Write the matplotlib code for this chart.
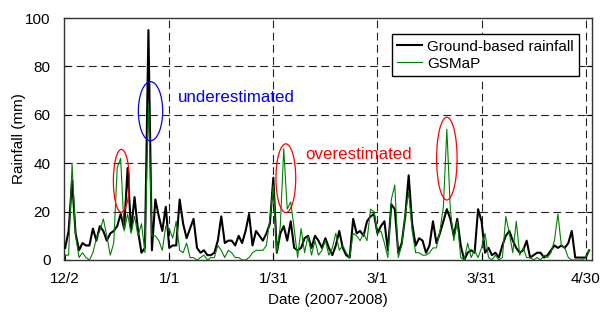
import numpy as np
import matplotlib
matplotlib.use('Agg')
import matplotlib.pyplot as plt
from matplotlib.patches import Ellipse

plt.rcParams['font.family'] = ['Liberation Sans', 'DejaVu Sans']

# daily rainfall (mm), day 0 = 12/2/2007
ground = [5, 12, 33, 11, 4, 7, 6, 6, 13, 8, 14, 12, 8, 11, 12, 14, 19, 13, 38, 12,
          26, 12, 3, 5, 95, 4, 25, 18, 12, 22, 5, 6, 6, 25, 15, 9, 13, 17, 5, 3,
          4, 2, 2, 3, 8, 18, 7, 8, 8, 6, 10, 7, 12, 19, 6, 12, 10, 8, 11, 15,
          34, 3, 11, 14, 8, 16, 5, 4, 5, 9, 10, 5, 10, 8, 5, 9, 5, 2, 6, 12,
          5, 2, 1, 17, 11, 12, 10, 16, 18, 19, 11, 14, 16, 4, 23, 21, 3, 7, 18, 35,
          15, 6, 9, 8, 3, 6, 16, 7, 11, 16, 21, 17, 10, 17, 6, 0, 3, 4, 3, 21,
          16, 3, 5, 2, 3, 1, 6, 10, 12, 8, 5, 3, 4, 8, 1, 2, 3, 3, 1, 2,
          4, 6, 5, 6, 5, 7, 12, 1, 1, 1, 1, 4]
gsmap = [2, 2, 40, 10, 1, 3, 1, 0, 3, 9, 12, 17, 10, 2, 7, 38, 42, 12, 19, 11,
         18, 10, 15, 3, 64, 10, 10, 8, 4, 14, 13, 9, 16, 4, 3, 7, 1, 1, 0, 1,
         2, 0, 1, 1, 6, 4, 1, 4, 3, 1, 1, 0, 0, 1, 3, 4, 4, 4, 6, 17,
         31, 3, 14, 46, 21, 24, 13, 1, 13, 3, 10, 2, 8, 2, 4, 8, 2, 5, 11, 4,
         6, 3, 1, 11, 10, 8, 11, 8, 21, 20, 11, 12, 7, 1, 25, 31, 1, 6, 19, 28,
         12, 3, 3, 2, 2, 3, 5, 5, 12, 22, 54, 21, 8, 16, 1, 0, 7, 1, 4, 1,
         5, 11, 1, 0, 2, 0, 1, 18, 11, 3, 16, 2, 5, 1, 1, 0, 1, 0, 2, 1,
         3, 8, 19, 6, 5, 1, 0, 0, 0, 0, 1, 4]
tick_days = [0, 30, 60, 90, 120, 150]
tick_labels = ['12/2', '1/1', '1/31', '3/1', '3/31', '4/30']

days = np.arange(len(ground))

fig = plt.figure(figsize=(6.03, 3.12), dpi=100)
ax = fig.add_axes([0.1066, 0.1667, 0.8747, 0.7756])

ax.plot(days, ground, color='black', lw=1.5, label='Ground-based rainfall', zorder=3)
ax.plot(days, gsmap, color='#008000', lw=0.8, label='GSMaP', zorder=4)

ax.set_xlim(-0.25, 151.75)
ax.set_ylim(0, 100)
ax.set_xticks(tick_days)
ax.set_xticklabels(tick_labels)
ax.set_yticks([0, 20, 40, 60, 80, 100])

grid_kw = dict(color='#222222', lw=0.8, linestyle=(0, (7, 4)), zorder=1)
for d in tick_days[1:]:
    ax.axvline(d, **grid_kw)
for v in [20, 40, 60, 80]:
    ax.axhline(v, **grid_kw)

ax.tick_params(direction='in', labelsize=11, right=True, length=4, pad=10)
ax.tick_params(axis='x', pad=9)
for s in ax.spines.values():
    s.set_color('#333333')
    s.set_linewidth(1.0)

ax.set_xlabel('Date (2007-2008)', fontsize=11, labelpad=5)
ax.set_ylabel('Rainfall (mm)', fontsize=11, labelpad=-1)

# highlight ellipses
for (cx, cy, w, h, c) in [(16.2, 32.7, 4.6, 26, 'red'), (24.6, 61.5, 7.0, 24.4, 'blue'),
                          (63.6, 33.8, 5.7, 28.4, 'red'), (110.0, 41.9, 5.9, 34.2, 'red')]:
    ax.add_patch(Ellipse((cx, cy), w, h, fill=False, edgecolor=c, lw=0.9, zorder=5))

ax.text(32.5, 67, 'underestimated', color='blue', fontsize=12.2, va='center', ha='left')
ax.text(69.1, 43.4, 'overestimated', color='red', fontsize=12.2, va='center', ha='left')

leg = ax.legend(loc='upper right', bbox_to_anchor=(0.976, 0.933), borderaxespad=0,
                fontsize=11, fancybox=False, framealpha=1, edgecolor='black',
                handlelength=1.6, handletextpad=0.35, labelspacing=0.2, borderpad=0.35)
leg.get_frame().set_linewidth(1.0)

fig.savefig('out.png', dpi=100)
